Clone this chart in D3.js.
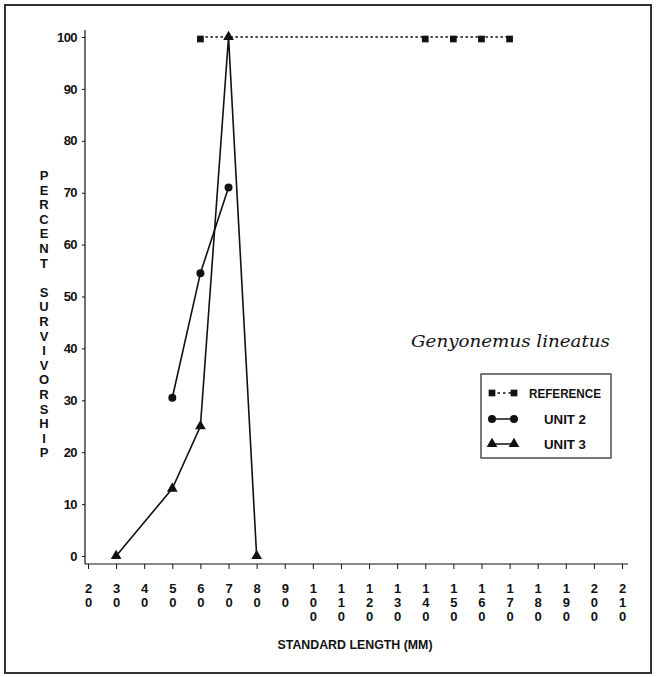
<!DOCTYPE html>
<html><head><meta charset="utf-8">
<script src="https://cdn.jsdelivr.net/npm/d3@7"></script>
<style>
body{margin:0;background:#fff;}
svg{display:block;}
.lbl{font-family:"Liberation Sans",Arial,sans-serif;font-weight:bold;fill:#111;}
</style></head>
<body>
<svg id="c" width="657" height="677"></svg>
<script>
// ---- data ----
const xTicks = [20,30,40,50,60,70,80,90,100,110,120,130,140,150,160,170,180,190,200,210];
const yTicks = [0,10,20,30,40,50,60,70,80,90,100];
const refX = [60,140,150,160,170];
const refY = [100,100,100,100,100];
const unit2X = [50,60,70];
const unit2Y = [30.5,54.5,71];
const unit3X = [30,50,60,70,80];
const unit3Y = [0,13,25,100,0];
const seriesNames = ["REFERENCE","UNIT 2","UNIT 3"];
const speciesName = "Genyonemus lineatus";
const xTitle = "STANDARD LENGTH (MM)";
const yTitle = "PERCENT SURVIVORSHIP";

const svg = d3.select("#c");
const ink = "#111";

// border
svg.append("rect").attr("x",5).attr("y",5).attr("width",646).attr("height",668)
  .attr("fill","none").attr("stroke","#333").attr("stroke-width",2);

const x = d3.scaleLinear().domain([20,210]).range([88,622]);
const y = d3.scaleLinear().domain([0,100]).range([556,37]);
const axisY = 564, axisX = 85;

// y axis
const gy = svg.append("g").attr("transform",`translate(${axisX},0)`)
  .call(d3.axisLeft(y).tickValues(yTicks).tickSize(3).tickSizeOuter(0).tickPadding(5));
gy.select(".domain").remove();
gy.selectAll("line").attr("stroke",ink);
gy.selectAll("text").attr("class","lbl").attr("font-size",13).attr("letter-spacing",-0.6);
svg.append("line").attr("x1",axisX).attr("x2",axisX).attr("y1",y(100)-7).attr("y2",axisY)
  .attr("stroke",ink).attr("stroke-width",1.2);

// x axis
const gx = svg.append("g").attr("transform",`translate(0,${axisY})`)
  .call(d3.axisBottom(x).tickValues(xTicks).tickSize(5).tickSizeOuter(0).tickFormat(""));
gx.select(".domain").remove();
gx.selectAll("line").attr("stroke",ink);
gx.selectAll(".tick").each(function(d){
  const t = d3.select(this).append("text").attr("class","lbl").attr("font-size",13)
    .attr("text-anchor","middle");
  String(d).split("").forEach((ch,i)=>{
    t.append("tspan").attr("x",0).attr("y",29+i*14).text(ch);
  });
});
svg.append("line").attr("x1",axisX).attr("x2",628).attr("y1",axisY).attr("y2",axisY)
  .attr("stroke",ink).attr("stroke-width",1.2);

// axis titles
svg.append("text").attr("class","lbl").attr("x",355).attr("y",649).attr("font-size",12)
  .attr("text-anchor","middle").attr("textLength",155).attr("lengthAdjust","spacingAndGlyphs")
  .text(xTitle);
const yt = svg.append("text").attr("class","lbl").attr("font-size",13).attr("text-anchor","middle");
yTitle.split("").forEach((ch,i)=>{
  yt.append("tspan").attr("x",44).attr("y",180+i*14.6).text(ch===" "?"\u00a0":ch);
});

// lines
const line = d3.line().x(d=>x(d[0])).y(d=>y(d[1]));
const ref = refX.map((v,i)=>[v,refY[i]]);
const u2 = unit2X.map((v,i)=>[v,unit2Y[i]]);
const u3 = unit3X.map((v,i)=>[v,unit3Y[i]]);
svg.append("path").datum(ref).attr("d",line).attr("fill","none").attr("stroke",ink)
  .attr("stroke-width",1.3).attr("stroke-dasharray","2.5,2.5");
svg.append("path").datum(u2).attr("d",line).attr("fill","none").attr("stroke",ink).attr("stroke-width",1.6);
svg.append("path").datum(u3).attr("d",line).attr("fill","none").attr("stroke",ink).attr("stroke-width",1.6);

const sq = d3.symbol().type(d3.symbolSquare).size(45);
const ci = d3.symbol().type(d3.symbolCircle).size(50);
const tr = d3.symbol().type(d3.symbolTriangle).size(50);
svg.selectAll(".sq").data(ref).enter().append("path").attr("d",sq)
  .attr("transform",d=>`translate(${x(d[0])},${y(d[1])+2})`).attr("fill",ink);
svg.selectAll(".ci").data(u2).enter().append("path").attr("d",ci)
  .attr("transform",d=>`translate(${x(d[0])},${y(d[1])})`).attr("fill",ink);
svg.selectAll(".tr").data(u3).enter().append("path").attr("d",tr)
  .attr("transform",d=>`translate(${x(d[0])},${y(d[1])})`).attr("fill",ink);

// species label
svg.append("text").attr("x",411).attr("y",347)
  .attr("font-family","'DejaVu Serif','Liberation Serif',serif").attr("font-style","italic")
  .attr("font-size",16).attr("fill",ink).attr("textLength",199).attr("lengthAdjust","spacingAndGlyphs")
  .text(speciesName);

// legend
svg.append("rect").attr("x",481).attr("y",374).attr("width",130).attr("height",84)
  .attr("fill","none").attr("stroke","#222").attr("stroke-width",1.2);
const legY = [393,419,444];
const syms = [sq,ci,tr];
seriesNames.forEach((name,i)=>{
  svg.append("line").attr("x1",492).attr("x2",514).attr("y1",legY[i]).attr("y2",legY[i])
    .attr("stroke",ink).attr("stroke-width",1.5).attr("stroke-dasharray",i===0?"2.5,3":null);
  svg.append("path").attr("d",syms[i]).attr("transform",`translate(492,${legY[i]})`).attr("fill",ink);
  svg.append("path").attr("d",syms[i]).attr("transform",`translate(514,${legY[i]})`).attr("fill",ink);
  const t = svg.append("text").attr("class","lbl").attr("x",565).attr("y",legY[i]+5)
    .attr("font-size",13).attr("text-anchor","middle").text(name);
  if(i===0) t.attr("textLength",72).attr("lengthAdjust","spacingAndGlyphs");
  else t.attr("textLength",42).attr("lengthAdjust","spacingAndGlyphs");
});
</script>
</body></html>
